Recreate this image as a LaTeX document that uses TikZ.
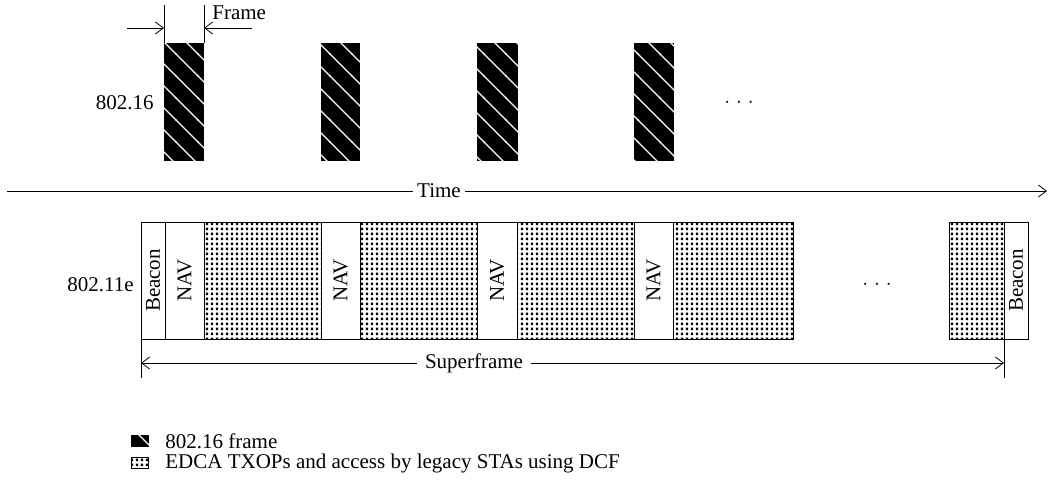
\documentclass[tikz,border=0pt]{standalone}
\usepackage{fontspec}
\setmainfont{Liberation Serif}
\usetikzlibrary{positioning,patterns,arrows.meta}

% white diagonals on black (802.16 frames)
\pgfdeclarepatternformonly{framelines}{\pgfqpoint{-1pt}{-1pt}}{\pgfqpoint{23pt}{23pt}}{\pgfqpoint{22pt}{22pt}}{%
  \pgfsetlinewidth{1.1pt}
  \pgfpathmoveto{\pgfqpoint{-1pt}{23pt}}
  \pgfpathlineto{\pgfqpoint{23pt}{-1pt}}
  \pgfusepath{stroke}}
% dense dots (EDCA TXOPs)
\pgfdeclarepatternformonly{txopdots}{\pgfqpoint{0pt}{0pt}}{\pgfqpoint{5pt}{4.5pt}}{\pgfqpoint{5pt}{4.5pt}}{%
  \pgfpathrectangle{\pgfqpoint{1pt}{1pt}}{\pgfqpoint{2.6pt}{2.6pt}}
  \pgfusepath{fill}}

\begin{document}
\begin{tikzpicture}[x=1pt,y=1pt,line width=0.8pt,
    >={Straight Barb[length=8pt,width=12pt]},
    every node/.style={inner sep=0pt,font=\fontsize{21}{25}\selectfont},
    cell/.style={draw=black,minimum height=117pt,outer sep=0pt,anchor=north west},
    txop/.style={cell,pattern=txopdots},
    frameblk/.style={preaction={fill=black},pattern=framelines,pattern color=white,
        minimum width=40pt,minimum height=118pt,outer sep=0pt,anchor=north west},
    onlinelbl/.style={fill=white,inner xsep=5pt}]
    \useasboundingbox (0,0) rectangle (1048,-494);

    % 802.16 row
    \node[frameblk] (f1) at (164,-43) {};
    \node[frameblk,minimum width=39pt] (f2) at (321,-43) {};
    \node[frameblk,minimum width=41pt] (f3) at (477,-43) {};
    \node[frameblk] (f4) at (634,-43) {};
    \node[anchor=east] (lbl16) at (154,-103) {802.16};
    \node (dots16) at (739,-103) {$\cdot$\hspace{6pt}$\cdot$\hspace{6pt}$\cdot$};

    % frame width marker
    \coordinate (fl) at (164,-5);
    \coordinate (fr) at (204,-5);
    \draw (f1.north west) -- (fl);
    \draw (f1.north east) -- (fr);
    \coordinate (al) at (127,-28);
    \coordinate (ar) at (252,-28);
    \draw[->] (al) -- (fl |- al);
    \draw[->] (ar) -- (fr |- ar);
    \node[anchor=west] (frm) at (212,-13) {Frame};

    % time axis
    \coordinate (t0) at (7,-191);
    \coordinate (t1) at (1047,-191);
    \draw[->] (t0) -- (t1);
    \node[onlinelbl,inner xsep=4pt] (time) at (439,-191) {Time};

    % 802.11e row
    \node[cell,minimum width=24pt] (bcn1) at (141,-222) {\rotatebox{90}{Beacon}};
    \node[cell,minimum width=39pt,right=0pt of bcn1] (nav1) {\rotatebox{90}{NAV}};
    \node[txop,minimum width=117pt,right=0pt of nav1] (txop1) {};
    \node[cell,minimum width=39pt,right=0pt of txop1] (nav2) {\rotatebox{90}{NAV}};
    \node[txop,minimum width=117pt,right=0pt of nav2] (txop2) {};
    \node[cell,minimum width=40pt,right=0pt of txop2] (nav3) {\rotatebox{90}{NAV}};
    \node[txop,minimum width=117pt,right=0pt of nav3] (txop3) {};
    \node[cell,minimum width=39pt,right=0pt of txop3] (nav4) {\rotatebox{90}{NAV}};
    \node[txop,minimum width=120pt,right=0pt of nav4] (txop4) {};
    \node (dots11) at (877,-285) {$\cdot$\hspace{6pt}$\cdot$\hspace{6pt}$\cdot$};
    \node[txop,minimum width=55pt] (txop5) at (949,-222) {};
    \node[cell,minimum width=24pt,right=0pt of txop5] (bcn2) {\rotatebox{90}{Beacon}};
    \node[anchor=east] (lbl11) at (134,-285) {802.11e};

    % superframe span
    \coordinate (sl) at (141,-378);
    \coordinate (sr) at (1004,-378);
    \draw (bcn1.south west) -- (sl);
    \draw (bcn2.south west) -- (sr);
    \coordinate (s0) at (141,-363);
    \coordinate (s1) at (1004,-363);
    \draw[<->] (s0) -- (s1);
    \node[onlinelbl,inner xsep=8pt] (sfr) at (474,-363) {Superframe};

    % legend
    \node[frameblk,minimum width=18pt,minimum height=12pt,anchor=west] (key1) at (131,-441) {};
    \node[anchor=west] (key1txt) at (165,-441) {802.16 frame};
    \node[txop,minimum width=17pt,minimum height=11pt,anchor=west] (key2) at (131,-463) {};
    \node[anchor=west] (key2txt) at (165,-463) {EDCA TXOPs and access by legacy STAs using DCF};
\end{tikzpicture}
\end{document}
